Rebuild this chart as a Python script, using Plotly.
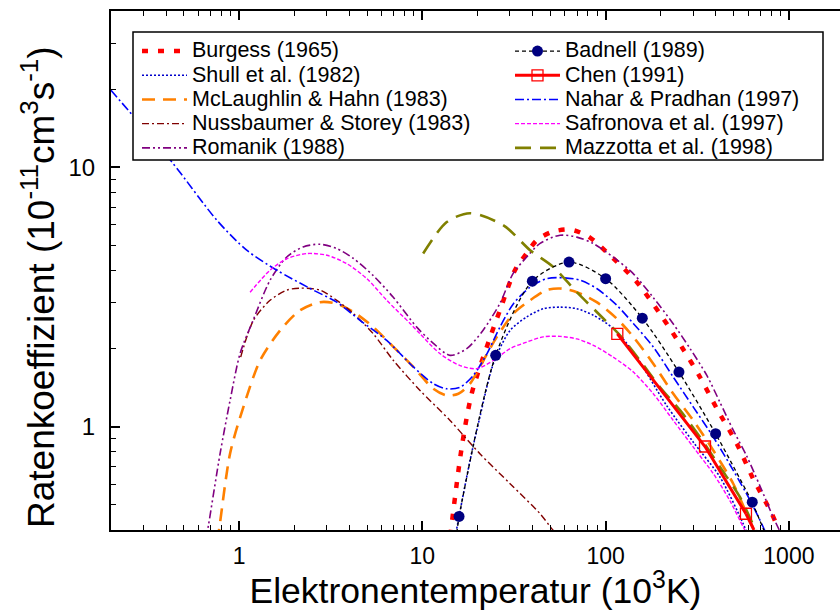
import plotly.graph_objects as go

# Electron temperature in 10^3 K, rate coefficients in 10^-11 cm^3 s^-1
burgess_T = [14.2, 16.4, 18.6, 23.1, 26.5, 32.0, 37.1, 42.1, 50.8, 63.9, 80.2, 109.7, 147.8, 205.6, 260.2, 327.3, 403.7, 519, 637, 806, 880]
burgess_v = [0.38, 0.834, 1.344, 2.15, 2.81, 4.01, 4.66, 5.23, 5.63, 5.75, 5.42, 4.46, 3.61, 2.62, 2.03, 1.553, 1.177, 0.862, 0.632, 0.463, 0.40]

shull_T = [15.4, 18.2, 20.6, 24.4, 30.1, 37.1, 45.7, 56.4, 69.6, 85.7, 110.2, 141.6, 215, 301, 421, 564, 600]
shull_v = [0.405, 0.741, 1.089, 1.75, 2.35, 2.65, 2.85, 2.89, 2.85, 2.69, 2.39, 1.94, 1.208, 0.872, 0.639, 0.422, 0.38]

mclaughlin_T = [0.76, 0.781, 0.893, 1.055, 1.302, 1.674, 2.152, 2.766, 3.41, 4.20, 5.40, 6.95, 8.93, 11.48, 13.59, 15.72, 18.2, 21.5, 25.5, 31.4, 38.7, 47.7, 56.4, 69.6, 89.4, 115, 141.6, 182, 234, 301, 387, 497, 589, 640]
mclaughlin_v = [0.36, 0.41, 0.789, 1.19, 1.80, 2.35, 2.81, 3.02, 2.98, 2.77, 2.42, 2.03, 1.70, 1.40, 1.32, 1.34, 1.465, 1.80, 2.22, 2.73, 3.07, 3.36, 3.41, 3.30, 3.02, 2.61, 2.22, 1.75, 1.34, 1.057, 0.81, 0.603, 0.462, 0.405]

nussbaumer_T = [1.02, 1.197, 1.476, 1.82, 2.15, 2.77, 3.41, 4.20, 5.40, 6.95, 9.71, 14.16, 20.6, 30.1, 43.9, 50.8, 55]
nussbaumer_v = [1.855, 2.57, 3.07, 3.36, 3.42, 3.36, 3.07, 2.73, 2.28, 1.80, 1.38, 1.057, 0.787, 0.603, 0.462, 0.405, 0.38]

romanik_T = [0.66, 0.680, 0.788, 0.893, 1.013, 1.192, 1.476, 1.82, 2.235, 2.766, 3.41, 4.19, 5.38, 6.92, 9.32, 11.44, 14.16, 17.47, 21.4, 26.5, 31.3, 37.1, 43.9, 56.4, 69.6, 85.3, 109.7, 141, 181, 233, 289, 356, 421, 495, 589, 696, 819, 894]
romanik_v = [0.37, 0.416, 0.79, 1.263, 1.918, 2.57, 3.67, 4.51, 4.93, 5.05, 4.86, 4.46, 3.83, 3.16, 2.42, 2.10, 1.884, 2.0, 2.35, 2.99, 3.90, 4.51, 5.09, 5.47, 5.38, 5.09, 4.51, 3.90, 3.16, 2.50, 2.0, 1.58, 1.24, 0.975, 0.77, 0.59, 0.45, 0.395]

badnell_T = [15.85, 25.12, 39.81, 63.10, 100.0, 158.5, 251.2, 398.1, 631.0]
badnell_v = [0.451, 1.884, 3.64, 4.31, 3.72, 2.62, 1.624, 0.94, 0.512]
badnell_ext_T = [15.4, 15.85, None, 631.0, 740]
badnell_ext_v = [0.39, 0.451, None, 0.512, 0.39]

chen_T = [115.8, 348.5, 583]
chen_v = [2.28, 0.839, 0.462]
chen_ext_T = [583, 645]
chen_ext_v = [0.462, 0.40]

nahar_T = [0.2, 0.431, 0.756, 1.10, 1.606, 2.44, 3.41, 4.57, 6.39, 8.93, 11.48, 13.59, 16.06, 18.97, 22.5, 26.5, 31.4, 38.7, 47.7, 58.8, 72.5, 89.4, 115, 141.6, 182, 234, 301, 387, 497, 614, 725, 760]
nahar_v = [19.8, 10.45, 6.25, 4.79, 4.01, 3.41, 3.02, 2.57, 2.15, 1.70, 1.465, 1.40, 1.42, 1.577, 1.91, 2.42, 2.98, 3.45, 3.72, 3.75, 3.67, 3.41, 2.94, 2.50, 2.03, 1.553, 1.19, 0.912, 0.679, 0.520, 0.41, 0.38]

safronova_T = [1.148, 1.476, 1.82, 2.34, 3.01, 3.87, 4.98, 6.39, 8.57, 9.71, 12.5, 16.06, 19.8, 24.4, 30.1, 37.1, 45.7, 56.4, 69.6, 85.7, 110, 141.6, 182, 234, 301, 387, 477, 564, 600]
safronova_v = [3.30, 4.01, 4.44, 4.65, 4.58, 4.25, 3.72, 3.07, 2.50, 2.28, 1.91, 1.72, 1.674, 1.80, 2.0, 2.12, 2.22, 2.23, 2.18, 2.06, 1.855, 1.624, 1.34, 1.057, 0.834, 0.659, 0.518, 0.41, 0.38]

mazzotta_T = [10.1, 13.59, 18.2, 27.7, 38.7, 51.8, 69.6, 93.2, 119.8, 154, 198, 255, 327, 421, 541, 653, 690]
mazzotta_v = [4.65, 6.15, 6.65, 5.97, 4.79, 4.13, 3.30, 2.69, 2.25, 1.80, 1.42, 1.156, 0.912, 0.699, 0.535, 0.405, 0.38]

x_ticks = [1, 10, 100, 1000]
x_minor = [0.2, 0.3, 0.4, 0.5, 0.6, 0.7, 0.8, 0.9,
           2, 3, 4, 5, 6, 7, 8, 9,
           20, 30, 40, 50, 60, 70, 80, 90,
           200, 300, 400, 500, 600, 700, 800, 900]
y_ticks = [1, 10]
y_minor = [0.4, 0.5, 0.6, 0.7, 0.8, 0.9, 2, 3, 4, 5, 6, 7, 8, 9, 20, 30, 40]

FONT = "Liberation Sans, Arial, sans-serif"
W, H = 840, 611
L, R, T, B = 111, 0, 11, 81
PW, PH = W - L - R, H - T - B


def px_to_paper(x, y):
    return (x - L) / PW, (H - B - y) / PH


def entry(label):
    # legend rows stay compact while the label itself is drawn larger
    return "<span style='font-size:21.5px'>" + label + "</span>"


fig = go.Figure()


def line_trace(x, y, name, color, width, dash, legend, rank):
    return go.Scatter(x=x, y=y, name=entry(name), mode="lines",
                      line=dict(color=color, width=width, dash=dash, shape="spline", smoothing=0.8),
                      legend=legend, legendrank=rank)


# left legend column
fig.add_trace(line_trace(burgess_T, burgess_v, "Burgess (1965)", "#FF0000", 4.5, "6px,10px", "legend", 1))
fig.add_trace(line_trace(shull_T, shull_v, "Shull et al. (1982)", "#0000CC", 1.6, "2px,2px", "legend", 2))
fig.add_trace(line_trace(mclaughlin_T, mclaughlin_v, "McLaughlin & Hahn (1983)", "#FF8000", 2.6, "13px,8px", "legend", 3))
fig.add_trace(line_trace(nussbaumer_T, nussbaumer_v, "Nussbaumer & Storey (1983)", "#800000", 1.4, "7px,3px,2px,3px", "legend", 4))
fig.add_trace(line_trace(romanik_T, romanik_v, "Romanik (1988)", "#800080", 1.6, "8px,3px,2px,3px,2px,3px", "legend", 5))

# right legend column
fig.add_trace(line_trace(nahar_T, nahar_v, "Nahar & Pradhan (1997)", "#0000FF", 1.6, "9px,3px,2px,3px", "legend2", 3))
fig.add_trace(line_trace(safronova_T, safronova_v, "Safronova et al. (1997)", "#FF00FF", 1.4, "4px,2px", "legend2", 4))
fig.add_trace(line_trace(mazzotta_T, mazzotta_v, "Mazzotta et al. (1998)", "#808000", 2.6, "16px,9px", "legend2", 5))

fig.add_trace(go.Scatter(x=chen_ext_T, y=chen_ext_v, mode="lines", showlegend=False, legendgroup="chen",
                         line=dict(color="#FF0000", width=3)))
fig.add_trace(go.Scatter(x=chen_T, y=chen_v, name=entry("Chen (1991)"), mode="lines+markers", legend="legend2",
                         legendgroup="chen", legendrank=2,
                         line=dict(color="#FF0000", width=3),
                         marker=dict(symbol="square-open", size=11, color="#FF0000",
                                     line=dict(color="#FF0000", width=1.3))))

fig.add_trace(go.Scatter(x=badnell_ext_T, y=badnell_ext_v, mode="lines", showlegend=False, legendgroup="badnell",
                         line=dict(color="black", width=1.3, dash="4px,3px")))
fig.add_trace(go.Scatter(x=badnell_T, y=badnell_v, name=entry("Badnell (1989)"), mode="lines+markers",
                         legend="legend2", legendgroup="badnell", legendrank=1,
                         line=dict(color="black", width=1.3, dash="4px,3px", shape="spline", smoothing=0.8),
                         marker=dict(symbol="circle", size=11, color="#000080")))

# one frame around both legend columns
bx0, by0 = px_to_paper(133, 160)
bx1, by1 = px_to_paper(823, 32)
fig.add_shape(type="rect", xref="paper", yref="paper", x0=bx0, y0=by0, x1=bx1, y1=by1,
              line=dict(color="black", width=1.5), fillcolor="white", layer="above")

lx1, ly = px_to_paper(137, 34)
lx2, _ = px_to_paper(510, 34)
legend_common = dict(yanchor="top", xanchor="left", bgcolor="rgba(0,0,0,0)", borderwidth=0,
                     font=dict(family=FONT, size=16.3, color="black"), itemwidth=45,
                     tracegroupgap=0, traceorder="normal")

# vertical axis title, placed explicitly beside the tick labels
tx, ty = px_to_paper(38, 287)
fig.add_annotation(text="Ratenkoeffizient (10<sup>-11</sup>cm<sup>3</sup>s<sup>-1</sup>)",
                   xref="paper", yref="paper", x=tx, y=ty, textangle=-90,
                   xanchor="center", yanchor="middle", showarrow=False,
                   font=dict(family=FONT, size=37, color="black"))

fig.update_layout(
    width=W, height=H,
    margin=dict(l=L, r=R, t=T, b=B, pad=0),
    paper_bgcolor="white", plot_bgcolor="white",
    font=dict(family=FONT, color="black"),
    legend=dict(x=lx1, y=ly, **legend_common),
    legend2=dict(x=lx2, y=ly, **legend_common),
    xaxis=dict(type="log", range=[-0.69897, 3.2788],
               tickvals=x_ticks, ticktext=[str(v) for v in x_ticks],
               ticks="inside", ticklen=9, tickwidth=1.5, tickcolor="black",
               minor=dict(tickvals=x_minor, ticks="inside", ticklen=5, tickwidth=1.2, tickcolor="black"),
               showline=True, linecolor="black", linewidth=2, mirror="ticks",
               showgrid=False, zeroline=False, ticklabelstandoff=4,
               tickfont=dict(family=FONT, size=23),
               title=dict(text="Elektronentemperatur (10<sup>3</sup>K)",
                          font=dict(family=FONT, size=35.5), standoff=6)),
    yaxis=dict(type="log", range=[-0.39794, 1.60206],
               tickvals=y_ticks, ticktext=[str(v) for v in y_ticks],
               ticks="inside", ticklen=9, tickwidth=1.5, tickcolor="black",
               minor=dict(tickvals=y_minor, ticks="inside", ticklen=5, tickwidth=1.2, tickcolor="black"),
               showline=True, linecolor="black", linewidth=2, mirror=False,
               showgrid=False, zeroline=False, ticklabelstandoff=9,
               tickfont=dict(family=FONT, size=24)),
)

fig.write_html("out.html")
